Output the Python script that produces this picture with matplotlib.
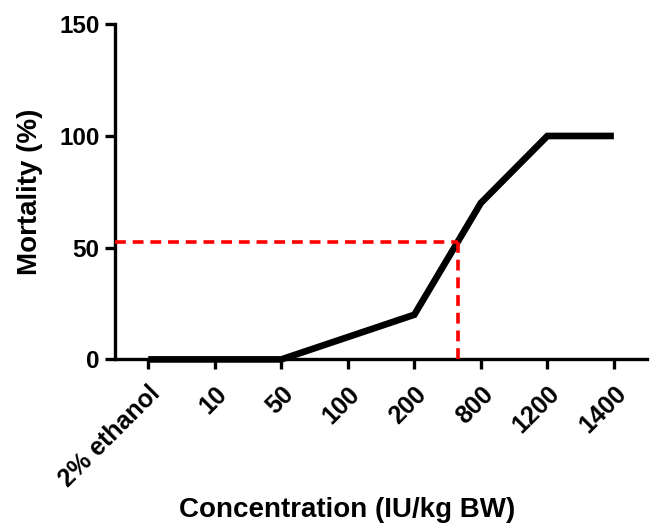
import numpy as np
from matplotlib import pyplot as plt

plt.rcParams['font.family'] = ['Liberation Sans', 'DejaVu Sans']
plt.rcParams['font.weight'] = 'bold'

doses = ["2% ethanol", "10", "50", "100", "200", "800", "1200", "1400"]
mortality = [0, 0, 0, 10, 20, 70, 100, 100]
ld50_x = 4.65
ld50_y = 52.5

fig = plt.figure(figsize=(6.59, 5.27), dpi=100)
ax = fig.add_axes([0.1745, 0.318, 0.8075, 0.636])

x = np.arange(len(doses))
ax.plot(x, mortality, color="black", lw=4.8, solid_joinstyle="miter",
        solid_capstyle="butt", clip_on=False, zorder=3)
ax.plot([-0.5, ld50_x], [ld50_y, ld50_y], color="red", lw=2.6, dashes=(3.0, 1.9), zorder=4)
ax.plot([ld50_x, ld50_x], [0, ld50_y], color="red", lw=2.6, dashes=(3.0, 1.9), zorder=4)

ax.set_xlim(-0.5, 7.5)
ax.set_ylim(0, 150)
ax.set_yticks([0, 50, 100, 150])
ax.set_xticks(x)
ax.set_xticklabels(doses, rotation=45, ha="right", va="top", rotation_mode="anchor", fontsize=18)

for s in ["top", "right"]:
    ax.spines[s].set_visible(False)
for s in ["left", "bottom"]:
    ax.spines[s].set_linewidth(2.4)
ax.tick_params(axis="both", direction="out", length=7, width=2.4, pad=4)
ax.tick_params(axis="y", labelsize=17.5)
ax.tick_params(axis="x", pad=9)

ax.set_ylabel("Mortality (%)", fontsize=20, fontweight="bold", labelpad=12)
ax.set_xlabel("Concentration (IU/kg BW)", fontsize=20, fontweight="bold")
ax.xaxis.set_label_coords(0.436, -0.41)

fig.savefig("out.png", dpi=100)
